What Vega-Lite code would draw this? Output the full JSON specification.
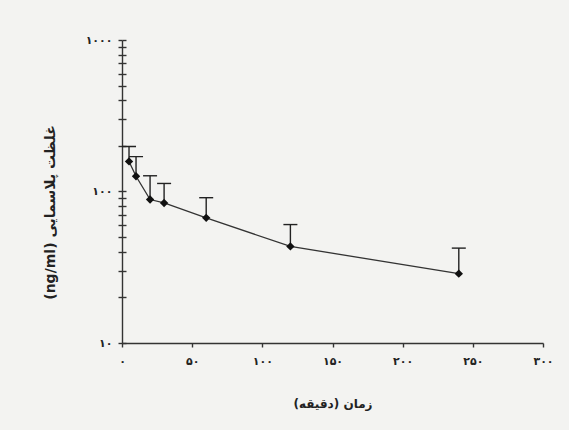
{
  "$schema": "https://vega.github.io/schema/vega-lite/v6.json",
  "width": 421,
  "height": 303,
  "autosize": {"type": "none"},
  "padding": {"left": 122, "top": 40, "right": 26, "bottom": 87},
  "background": "#f3f3f1",
  "config": {"view": {"stroke": null}, "font": "DejaVu Sans"},
  "data": {
    "values": [
      {"time": 5, "value": 158, "upper": 198},
      {"time": 10, "value": 126, "upper": 170},
      {"time": 20, "value": 88.5, "upper": 127},
      {"time": 30, "value": 84, "upper": 113},
      {"time": 60, "value": 67, "upper": 91},
      {"time": 120, "value": 43.4, "upper": 60.5},
      {"time": 240, "value": 28.7, "upper": 42.3}
    ]
  },
  "resolve": {"axis": {"y": "independent"}},
  "layer": [
    {
      "mark": {"type": "rule", "color": "#222", "strokeWidth": 1.4},
      "encoding": {
        "x": {
          "field": "time", "type": "quantitative",
          "scale": {"domain": [0, 300], "nice": false},
          "axis": {
            "values": [0, 50, 100, 150, 200, 250, 300],
            "labelExpr": "datum.value == 0 ? '۰' : datum.value == 50 ? '۵۰' : datum.value == 100 ? '۱۰۰' : datum.value == 150 ? '۱۵۰' : datum.value == 200 ? '۲۰۰' : datum.value == 250 ? '۲۵۰' : '۳۰۰'",
            "labelFlush": false,
            "labelOverlap": false,
            "grid": false,
            "domainColor": "#333",
            "domainWidth": 1.4,
            "tickColor": "#333",
            "tickWidth": 1.4,
            "tickSize": 4,
            "labelPadding": 8,
            "labelFontSize": 11,
            "labelFontWeight": "bold",
            "labelColor": "#222",
            "title": "‏زمان (دقیقه)‏",
            "titleFontSize": 12,
            "titleFontWeight": "bold",
            "titleColor": "#222",
            "titlePadding": 32
          }
        },
        "y": {
          "field": "value", "type": "quantitative",
          "scale": {"type": "log", "domain": [10, 1000], "nice": false},
          "axis": {
            "values": [10, 20, 30, 40, 50, 60, 70, 80, 90, 100, 200, 300, 400, 500, 600, 700, 800, 900, 1000],
            "tickCount": 100,
            "labelExpr": "datum.value == 1000 ? '۱۰۰۰' : datum.value == 100 ? '۱۰۰' : datum.value == 10 ? '۱۰' : ''",
            "labelOverlap": false,
            "grid": false,
            "domainColor": "#333",
            "domainWidth": 1.4,
            "tickColor": "#333",
            "tickWidth": 1.4,
            "tickSize": 4,
            "labelPadding": 6,
            "labelFontSize": 11,
            "labelFontWeight": "bold",
            "labelColor": "#222",
            "title": "(ng/ml) غلظت پلاسمایی",
            "titleFontSize": 14,
            "titleFontWeight": "bold",
            "titleColor": "#222",
            "titlePadding": 28,
            "titleY": 172
          }
        },
        "y2": {"field": "upper"}
      }
    },
    {
      "mark": {"type": "tick", "orient": "horizontal", "size": 14, "thickness": 1.4, "color": "#222", "opacity": 1},
      "encoding": {
        "x": {"field": "time", "type": "quantitative"},
        "y": {"field": "upper", "type": "quantitative",
          "axis": {
            "orient": "left",
            "values": [10, 20, 30, 40, 50, 60, 70, 80, 90, 100, 200, 300, 400, 500, 600, 700, 800, 900, 1000],
            "tickCount": 100,
            "tickSize": -4, "tickColor": "#333", "tickWidth": 1.4,
            "labels": false, "domain": false, "grid": false, "title": null
          }
        }
      }
    },
    {
      "mark": {"type": "line", "color": "#333", "strokeWidth": 1.3},
      "encoding": {
        "x": {"field": "time", "type": "quantitative"},
        "y": {"field": "value", "type": "quantitative", "axis": null}
      }
    },
    {
      "mark": {"type": "point", "shape": "diamond", "filled": true, "size": 70, "color": "#111", "opacity": 1},
      "encoding": {
        "x": {"field": "time", "type": "quantitative"},
        "y": {"field": "value", "type": "quantitative", "axis": null}
      }
    }
  ]
}
